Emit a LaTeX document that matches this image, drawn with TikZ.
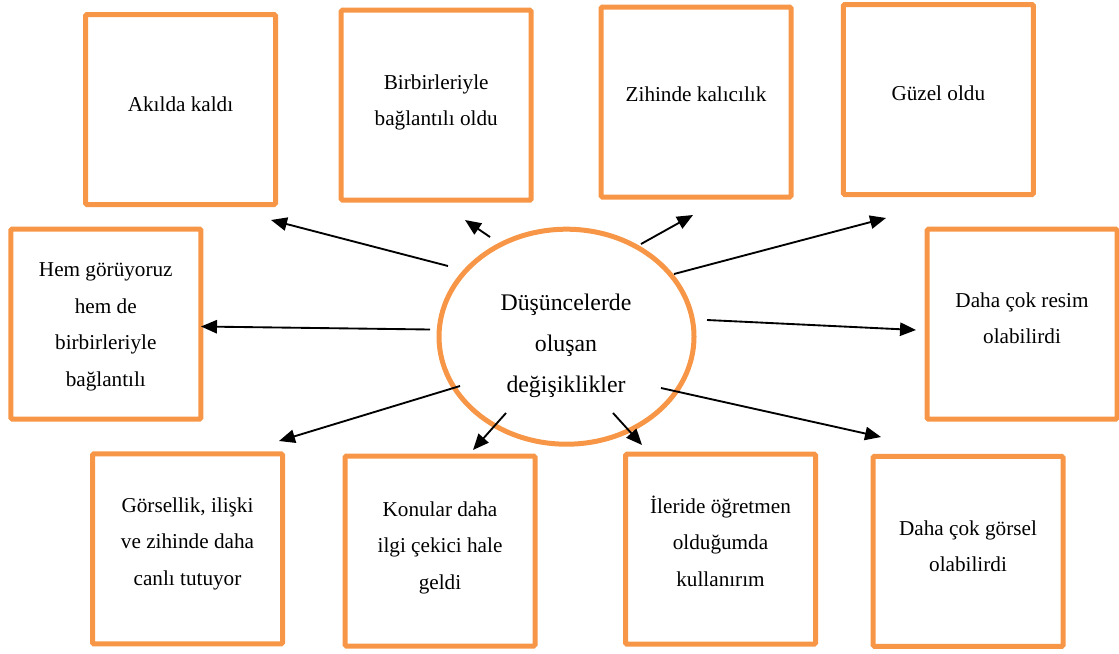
\documentclass[tikz,border=0pt]{standalone}
\usepackage{fontspec}
\setmainfont{Liberation Serif}
\usetikzlibrary{arrows.meta,shapes.geometric}
\definecolor{turuncu}{HTML}{F79646}
\tikzset{
	kutu/.style={draw=turuncu, line width=3.75pt, rounded corners=1pt, minimum size=142.5pt, inner sep=0pt},
	merkez/.style={ellipse, draw=turuncu, line width=3.75pt, minimum width=191.25pt, minimum height=161.25pt, inner sep=0pt},
	yazi/.style={align=center, inner sep=0pt, font=\fontsize{15.9}{27.5}\selectfont},
	ortayazi/.style={align=center, inner sep=0pt, font=\fontsize{17.85}{30.75}\selectfont},
	ok/.style={-{Triangle[length=12pt,width=10pt]}, line width=1.4pt}
}
\begin{document}
\begin{tikzpicture}[x=0.75pt,y=-0.75pt]
				\useasboundingbox (0,0) rectangle (1119,653);
				% orta
				\node[merkez] (degisim) at (566.5,336.7) {};
				\node[ortayazi] (degisim-y) at (566,346.3) {Düşüncelerde\\oluşan\\değişiklikler};
				% ust sira
				\node[kutu] (akilda) at (180.5,109.5) {};
				\node[yazi] (akilda-y) at (180.5,103.8) {Akılda kaldı};
				\node[kutu] (baglanti) at (436.2,105.2) {};
				\node[yazi] (baglanti-y) at (436.2,102.5) {Birbirleriyle\\bağlantılı oldu};
				\node[kutu] (kalici) at (696,102) {};
				\node[yazi] (kalici-y) at (696,94.5) {Zihinde kalıcılık};
				\node[kutu] (guzel) at (938.3,99.5) {};
				\node[yazi] (guzel-y) at (938.3,92.8) {Güzel oldu};
				% orta sira
				\node[kutu] (hem) at (105.8,324) {};
				\node[yazi] (hem-y) at (105.8,326.8) {Hem görüyoruz\\hem de\\birbirleriyle\\bağlantılı};
				\node[kutu] (resim) at (1022,324.2) {};
				\node[yazi] (resim-y) at (1022,318.3) {Daha çok resim\\olabilirdi};
				% alt sira
				\node[kutu] (gorsellik) at (187.5,548.9) {};
				\node[yazi] (gorsellik-y) at (187.5,543.6) {Görsellik, ilişki\\ve zihinde daha\\canlı tutuyor};
				\node[kutu] (konular) at (440,551) {};
				\node[yazi] (konular-y) at (440,547.7) {Konular daha\\ilgi çekici hale\\geldi};
				\node[kutu] (ileride) at (720.5,549.2) {};
				\node[yazi] (ileride-y) at (720.5,541.3) {İleride öğretmen\\olduğumda\\kullanırım};
				\node[kutu] (gorsel) at (968,551.3) {};
				\node[yazi] (gorsel-y) at (968,546.1) {Daha çok görsel\\olabilirdi};
				% oklar
				\coordinate (a1) at (448,266);   \coordinate (b1) at (271,220);
				\coordinate (a2) at (490,237);   \coordinate (b2) at (465,220);
				\coordinate (a3) at (641,244);   \coordinate (b3) at (693,215);
				\coordinate (a4) at (674,274);   \coordinate (b4) at (886,218);
				\coordinate (a5) at (430,329.5); \coordinate (b5) at (201,326.5);
				\coordinate (a6) at (707,320);   \coordinate (b6) at (916,330);
				\coordinate (a7) at (460,386);   \coordinate (b7) at (279,441);
				\coordinate (a8) at (506,413);   \coordinate (b8) at (473,450);
				\coordinate (a9) at (613,413);   \coordinate (b9) at (642,445);
				\coordinate (a10) at (661,388);  \coordinate (b10) at (881,437);
				\draw[ok] (a1) -- (b1);
				\draw[ok] (a2) -- (b2);
				\draw[ok] (a3) -- (b3);
				\draw[ok] (a4) -- (b4);
				\draw[ok] (a5) -- (b5);
				\draw[ok] (a6) -- (b6);
				\draw[ok] (a7) -- (b7);
				\draw[ok] (a8) -- (b8);
				\draw[ok] (a9) -- (b9);
				\draw[ok] (a10) -- (b10);
\end{tikzpicture}
\end{document}
